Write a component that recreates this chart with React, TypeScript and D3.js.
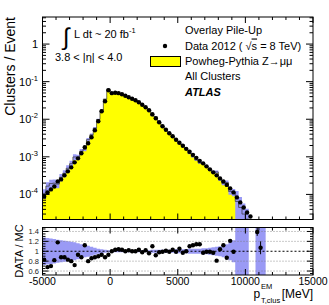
import React from "react";
import * as d3 from "d3";

// histogram binning (MeV)
const binLow = -5000;
const binWidth = 250;

// data, clusters / event, bins from -5000 in steps of 250 MeV (last bin centre 10375)
const dataValues = [
  8.85e-5, 1.13e-4, 1.36e-4, 1.63e-4, 2.22e-4, 2.51e-4, 3.21e-4, 4.11e-4, 5.25e-4, 7.13e-4,
  9.12e-4, 1.24e-3, 1.79e-3, 2.29e-3, 3.31e-3, 5.09e-3, 8.85e-3, 0.0163, 0.0302, 0.0593,
  0.0494, 0.0509, 0.0494, 0.0464, 0.0423, 0.0386, 0.0352, 0.0321, 0.0284, 0.0244,
  0.0209, 0.0174, 0.0136, 0.0106, 0.00832, 0.0065, 0.00525, 0.00423, 0.00352, 0.00284,
  0.00236, 0.00197, 0.00163, 0.00136, 0.00113, 9.4e-4, 7.82e-4, 6.71e-4, 5.58e-4, 4.64e-4,
  3.86e-4, 3.21e-4, 2.67e-4, 2.22e-4, 1.79e-4, 1.45e-4, 1.13e-4, 8.32e-5, 6.12e-5, 4.5e-5,
  3.31e-5, 2.59e-5,
];

// DATA / MC, same bins, up to bin centre 9125
const ratioValues = [
  0.83, 0.68, 0.7, 0.82, 1.18, 0.88, 0.88, 0.83, 0.8, 0.72,
  0.93, 0.88, 1.12, 0.8, 0.86, 0.88, 0.9, 0.93, 0.88, 0.93,
  1.0, 1.03, 1.04, 1.03, 1.0, 1.02, 1.0, 1.0, 1.03, 0.98,
  1.02, 0.96, 1.1, 0.92, 0.98, 0.99, 1.01, 0.99, 1.03, 0.99,
  1.05, 0.97, 1.0, 1.1, 1.12, 1.14, 1.14, 0.97, 0.99, 0.99,
  0.97, 0.81, 1.04, 1.12, 0.87, 1.21, 0.99,
];

// relative MC stat. uncertainty, same bins as ratioValues
const mcRelErr = [
  0.28, 0.27, 0.26, 0.25, 0.23, 0.22, 0.21, 0.2, 0.19, 0.18,
  0.16, 0.14, 0.12, 0.11, 0.09, 0.07, 0.05, 0.04, 0.03, 0.02,
  0.02, 0.02, 0.02, 0.02, 0.02, 0.02, 0.02, 0.02, 0.02, 0.02,
  0.02, 0.02, 0.03, 0.03, 0.03, 0.03, 0.03, 0.03, 0.03, 0.04,
  0.04, 0.04, 0.04, 0.05, 0.05, 0.05, 0.05, 0.06, 0.06, 0.07,
  0.08, 0.09, 0.1, 0.12, 0.14, 0.18, 0.22,
];

// MC bins beyond the ratio range (centres 9375 .. 10125)
const mcTailValues = [6.5e-5, 4.5e-5, 3e-5, 2.2e-5];
const mcTailRelErr = [0.9, 0.9, 0.9, 0.9];

// isolated MC bins far in the tail (only visible in the ratio band)
const bandOnlyCenters = [10875, 11125, 11375];

const tailRatioCenters = [10875, 11125];
const tailRatioValues = [1.39, 1.07];
const tailRatioErrors = [0.08, 0.13];

const xMajorTicks = [-5000, 0, 5000, 10000, 15000];
const xTickLabels = ["-5000", "0", "5000", "10000", "15000"];
const yDecades = [-4, -3, -2, -1, 0];
const ratioTicks = [0.6, 0.8, 1, 1.2, 1.4];
const ratioTickLabels = ["0.6", "0.8", "1", "1.2", "1.4"];

const font = "'Liberation Sans', Arial, Helvetica, sans-serif";

const App = () => {
  const W = 329;
  const H = 305;
  const left = 42.5;
  const right = 313;
  const mainTop = 17;
  const mainBottom = 219.5;
  const ratioTop = 227.5;
  const ratioBottom = 275;

  const x = d3.scaleLinear().domain([-5000, 15000]).range([left, right]);
  const y = d3.scaleLog().domain([2.15e-5, 5.25]).range([mainBottom, mainTop]);
  const r = d3.scaleLinear().domain([0.52, 1.48]).range([ratioBottom, ratioTop]);

  // MC bins: derived from data / ratio, then the tail
  const mcBins = ratioValues.map((rv, i) => ({
    lo: binLow + i * binWidth,
    v: dataValues[i] / rv,
    err: mcRelErr[i],
  }));
  mcTailValues.forEach((v, j) => {
    mcBins.push({ lo: binLow + (ratioValues.length + j) * binWidth, v, err: mcTailRelErr[j] });
  });
  const lastMc = mcBins[mcBins.length - 1];
  const mcStepPts = [...mcBins, { lo: lastMc.lo + binWidth, v: lastMc.v, err: lastMc.err }];

  const safe = (v: number) => Math.max(v, 1e-8);

  const mcArea = d3
    .area<any>()
    .curve(d3.curveStepAfter)
    .x((d) => x(d.lo))
    .y0(mainBottom + 5)
    .y1((d) => y(safe(d.v)));
  const mcLine = d3
    .line<any>()
    .curve(d3.curveStepAfter)
    .x((d) => x(d.lo))
    .y((d) => y(safe(d.v)));
  const mcBand = d3
    .area<any>()
    .curve(d3.curveStepAfter)
    .x((d) => x(d.lo))
    .y0((d) => y(safe(d.v * (1 - d.err))))
    .y1((d) => y(safe(d.v * (1 + d.err))));

  const ratioBand = d3
    .area<any>()
    .curve(d3.curveStepAfter)
    .x((d) => x(d.lo))
    .y0((d) => r(1 - d.err))
    .y1((d) => r(1 + d.err));

  const extraBand = bandOnlyCenters.map((c) => ({ lo: c - binWidth / 2, v: 1, err: 2 }));
  const extraBandPts = [...extraBand, { lo: extraBand[extraBand.length - 1].lo + binWidth, v: 1, err: 2 }];

  const center = (i: number) => binLow + (i + 0.5) * binWidth;

  // ticks
  const xMinor = d3.range(-5000, 15001, 1000).filter((v) => v % 5000 !== 0);
  const logMinor: number[] = [];
  for (let d = -5; d <= 0; d++) {
    for (let m = 2; m <= 9; m++) {
      const v = m * Math.pow(10, d);
      if (v > 2.15e-5 && v < 5.25) logMinor.push(v);
    }
  }
  const ratioMinor = d3.range(0.55, 1.48, 0.05).filter((v) => Math.abs(v * 5 - Math.round(v * 5)) > 1e-6);

  const majorLen = 6;
  const minorLen = 3;

  return (
    <svg width={W} height={H} style={{ position: "absolute", left: 0, top: 0, background: "white" }} fontFamily={font}>
      <defs>
        <clipPath id="mainClip">
          <rect x={left} y={mainTop} width={right - left} height={mainBottom - mainTop} />
        </clipPath>
        <clipPath id="ratioClip">
          <rect x={left} y={ratioTop} width={right - left} height={ratioBottom - ratioTop} />
        </clipPath>
      </defs>

      {/* main panel */}
      <g clipPath="url(#mainClip)">
        <path d={mcArea(mcStepPts) || ""} fill="#ffff00" />
        <path d={mcBand(mcStepPts) || ""} fill="#9a9af5" />
        <path d={(mcLine(mcStepPts) || "") + `V${mainBottom + 5}`} fill="none" stroke="#333" strokeWidth={0.7} />
        {dataValues.map((v, i) => (
          <circle key={i} cx={x(center(i))} cy={y(v)} r={2.2} fill="black" />
        ))}
      </g>

      {/* main axes ticks */}
      <g stroke="black" strokeWidth={1}>
        {xMajorTicks.map((t) => (
          <g key={"mx" + t}>
            <line x1={x(t)} x2={x(t)} y1={mainBottom} y2={mainBottom - majorLen} />
            <line x1={x(t)} x2={x(t)} y1={mainTop} y2={mainTop + majorLen} />
          </g>
        ))}
        {xMinor.map((t) => (
          <g key={"mxm" + t}>
            <line x1={x(t)} x2={x(t)} y1={mainBottom} y2={mainBottom - minorLen} />
            <line x1={x(t)} x2={x(t)} y1={mainTop} y2={mainTop + minorLen} />
          </g>
        ))}
        {yDecades.map((d) => (
          <g key={"yd" + d}>
            <line x1={left} x2={left + 7} y1={y(Math.pow(10, d))} y2={y(Math.pow(10, d))} />
            <line x1={right} x2={right - 7} y1={y(Math.pow(10, d))} y2={y(Math.pow(10, d))} />
          </g>
        ))}
        {logMinor.map((v, i) => (
          <g key={"ym" + i}>
            <line x1={left} x2={left + 3.5} y1={y(v)} y2={y(v)} />
            <line x1={right} x2={right - 3.5} y1={y(v)} y2={y(v)} />
          </g>
        ))}
      </g>
      <rect x={left} y={mainTop} width={right - left} height={mainBottom - mainTop} fill="none" stroke="black" strokeWidth={1} />

      {/* main y labels */}
      {yDecades.map((d) =>
        d === 0 ? (
          <text key={"yl" + d} x={38} y={y(1) + 4} fontSize={11} textAnchor="end">
            1
          </text>
        ) : (
          <text key={"yl" + d} x={38} y={y(Math.pow(10, d)) + 4} fontSize={11} textAnchor="end">
            10
            <tspan fontSize={7.5} dy={-5}>
              {d}
            </tspan>
          </text>
        )
      )}
      <text transform={`translate(15,${mainTop}) rotate(-90)`} fontSize={14} textAnchor="end">
        Clusters / Event
      </text>

      {/* left labels */}
      <text x={63} y={45} fontSize={24}>
        ∫
      </text>
      <text x={74} y={38} fontSize={11}>
        L dt ~ 20 fb
        <tspan fontSize={7.5} dy={-5}>
          -1
        </tspan>
      </text>
      <text x={55} y={61} fontSize={11}>
        3.8 &lt; |η| &lt; 4.0
      </text>

      {/* legend */}
      <text x={185} y={34} fontSize={11}>
        Overlay Pile-Up
      </text>
      <circle cx={165} cy={46} r={2.2} fill="black" />
      <text x={185} y={49.5} fontSize={11}>
        Data 2012 ( √<tspan textDecoration="overline">s</tspan> = 8 TeV)
      </text>
      <rect x={150.5} y={56.5} width={30} height={10} fill="#ffff00" stroke="black" strokeWidth={1} />
      <text x={185} y={65} fontSize={11}>
        Powheg-Pythia Z→μμ
      </text>
      <text x={185} y={80} fontSize={11}>
        All Clusters
      </text>
      <text x={185} y={96} fontSize={11} fontWeight="bold" fontStyle="italic">
        ATLAS
      </text>

      {/* ratio panel */}
      <g clipPath="url(#ratioClip)">
        <path d={ratioBand(mcStepPts) || ""} fill="#9a9af5" />
        <path d={ratioBand(extraBandPts) || ""} fill="#9a9af5" />
        {ratioTicks
          .filter((t) => t !== 1)
          .map((t) => (
            <line key={"g" + t} x1={left} x2={right} y1={r(t)} y2={r(t)} stroke="#777" strokeWidth={0.8} strokeDasharray="1,2" />
          ))}
        <line x1={left} x2={right} y1={r(1)} y2={r(1)} stroke="black" strokeWidth={1} strokeDasharray="2,2" />
        {ratioValues.map((v, i) => (
          <circle key={"rp" + i} cx={x(center(i))} cy={r(v)} r={2.2} fill="black" />
        ))}
        {tailRatioCenters.map((c, i) => (
          <g key={"tr" + i}>
            <line
              x1={x(c)}
              x2={x(c)}
              y1={r(tailRatioValues[i] - tailRatioErrors[i])}
              y2={r(tailRatioValues[i] + tailRatioErrors[i])}
              stroke="black"
              strokeWidth={1}
            />
            <circle cx={x(c)} cy={r(tailRatioValues[i])} r={2.2} fill="black" />
          </g>
        ))}
      </g>

      <g stroke="black" strokeWidth={1}>
        {xMajorTicks.map((t) => (
          <g key={"rx" + t}>
            <line x1={x(t)} x2={x(t)} y1={ratioBottom} y2={ratioBottom - majorLen} />
            <line x1={x(t)} x2={x(t)} y1={ratioTop} y2={ratioTop + majorLen} />
          </g>
        ))}
        {xMinor.map((t) => (
          <g key={"rxm" + t}>
            <line x1={x(t)} x2={x(t)} y1={ratioBottom} y2={ratioBottom - minorLen} />
            <line x1={x(t)} x2={x(t)} y1={ratioTop} y2={ratioTop + minorLen} />
          </g>
        ))}
        {ratioTicks.map((t) => (
          <g key={"ry" + t}>
            <line x1={left} x2={left + 6} y1={r(t)} y2={r(t)} />
            <line x1={right} x2={right - 6} y1={r(t)} y2={r(t)} />
          </g>
        ))}
        {ratioMinor.map((t, i) => (
          <g key={"rym" + i}>
            <line x1={left} x2={left + 3} y1={r(t)} y2={r(t)} />
            <line x1={right} x2={right - 3} y1={r(t)} y2={r(t)} />
          </g>
        ))}
      </g>
      <rect x={left} y={ratioTop} width={right - left} height={ratioBottom - ratioTop} fill="none" stroke="black" strokeWidth={1} />

      {ratioTicks.map((t, i) => (
        <text key={"rl" + t} x={39} y={r(t) + 2.5} fontSize={7.5} textAnchor="end" fill="#222">
          {ratioTickLabels[i]}
        </text>
      ))}
      <text transform={`translate(23,251) rotate(-90)`} fontSize={11} textAnchor="middle">
        DATA / MC
      </text>

      {xMajorTicks.map((t, i) => (
        <text key={"xl" + t} x={x(t)} y={284.7} fontSize={10.5} textAnchor="middle">
          {xTickLabels[i]}
        </text>
      ))}

      {/* x title */}
      <text x={253.5} y={298} fontSize={12}>
        p
      </text>
      <text x={261} y={289} fontSize={7.5}>
        EM
      </text>
      <text x={261} y={302.5} fontSize={7.5}>
        T,clus
      </text>
      <text x={313} y={297.5} fontSize={12} textAnchor="end">
        [MeV]
      </text>
    </svg>
  );
};

export default App;
